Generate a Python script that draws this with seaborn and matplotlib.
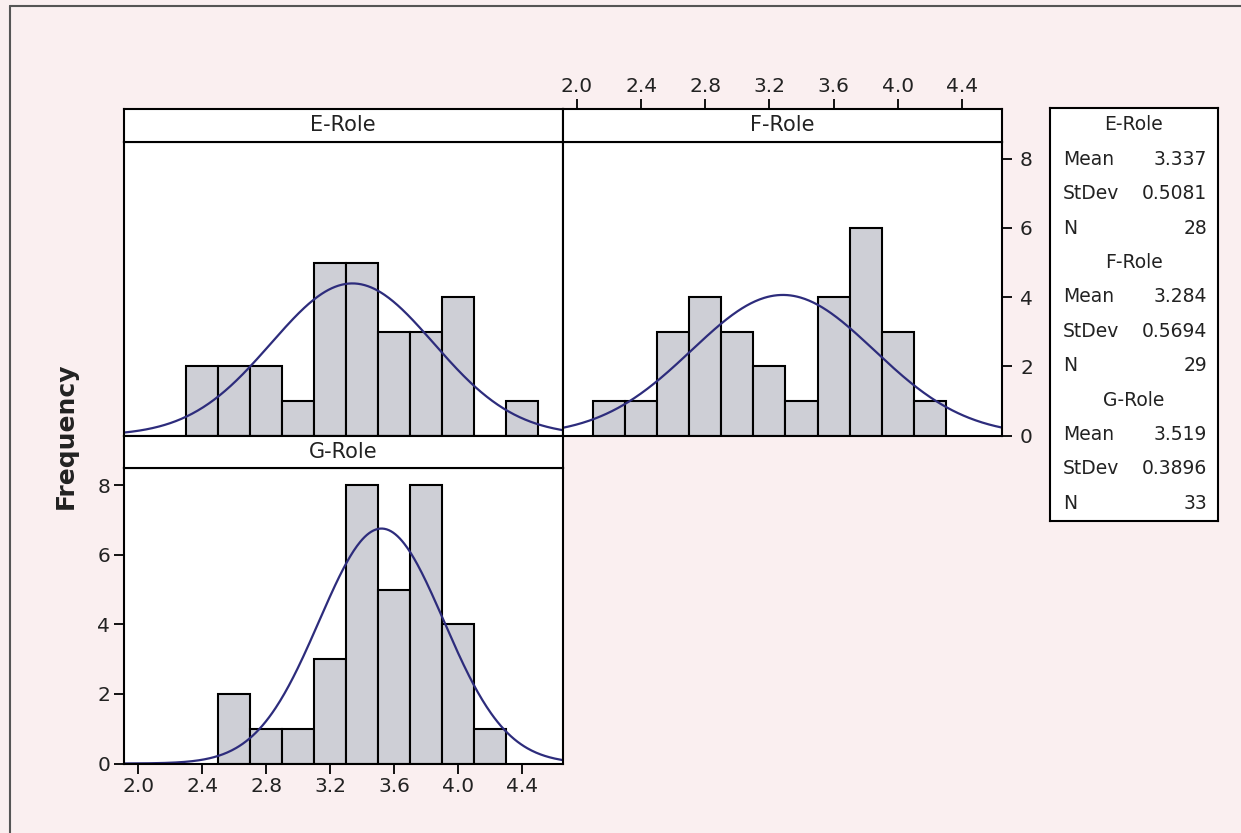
import numpy as np
import pandas as pd
import matplotlib
matplotlib.use("Agg")
import matplotlib.pyplot as plt
from matplotlib.lines import Line2D
import seaborn as sns

# ---------------- data ----------------
roles = ["E-Role", "F-Role", "G-Role"]
bin_width = 0.2
e_first_edge = 2.3
e_counts = [2, 2, 2, 1, 5, 5, 3, 3, 4, 0, 1]
f_first_edge = 2.1
f_counts = [1, 1, 3, 4, 3, 2, 1, 4, 6, 3, 1]
g_first_edge = 2.5
g_counts = [2, 1, 1, 3, 8, 5, 8, 4, 1]
means = [3.337, 3.284, 3.519]
stdevs = [0.5081, 0.5694, 0.3896]
ns = [28, 29, 33]
mean_labels = ["3.337", "3.284", "3.519"]
sd_labels = ["0.5081", "0.5694", "0.3896"]
x_ticks = [2.0, 2.4, 2.8, 3.2, 3.6, 4.0, 4.4]
x_tick_labels = ["2.0", "2.4", "2.8", "3.2", "3.6", "4.0", "4.4"]
y_ticks = [0, 2, 4, 6, 8]

# ---------------- style ----------------
sns.set_style("white")
plt.rcParams["font.family"] = ["DejaVu Sans"]

BG = "#faeff0"
BAR = "#cecfd6"
CURVE = "#2d2c7c"
TXT = "#222222"
XLIM = (1.91, 4.65)
YLIM = (0, 8.5)
W, H = 1241, 833

fig = plt.figure(figsize=(W / 100, H / 100), dpi=100, facecolor=BG)


def rect(l, t, r, b):
    return [l / W, 1 - b / H, (r - l) / W, (b - t) / H]


def style_spines(ax):
    for s in ax.spines.values():
        s.set_visible(True)
        s.set_color("black")
        s.set_linewidth(1.5)


def draw_panel(ax, first_edge, counts, mean, sd, n):
    counts = [float(c) for c in counts]
    nb = len(counts)
    centers = [first_edge + bin_width * (i + 0.5) for i in range(nb)]
    df = pd.DataFrame({"x": centers, "w": counts})
    sns.histplot(data=df, x="x", weights="w", binwidth=bin_width,
                 binrange=(first_edge, first_edge + bin_width * nb), ax=ax,
                 stat="count", color=BAR, edgecolor="black", linewidth=1.5,
                 alpha=1.0)
    xs = np.linspace(XLIM[0], XLIM[1], 400)
    ys = n * bin_width * np.exp(-0.5 * ((xs - mean) / sd) ** 2) / (sd * np.sqrt(2 * np.pi))
    sns.lineplot(x=xs, y=ys, ax=ax, color=CURVE, linewidth=1.6)
    ax.set_xlim(*XLIM)
    ax.set_ylim(*YLIM)
    ax.set_xlabel("")
    ax.set_ylabel("")
    ax.set_facecolor("white")
    style_spines(ax)


def draw_strip(r, label):
    sax = fig.add_axes(rect(*r))
    sax.set_facecolor("white")
    sax.set_xlim(*XLIM)
    sax.set_ylim(0, 1)
    sax.set_xticks([])
    sax.set_yticks([])
    style_spines(sax)
    sax.text(0.5, 0.5, label, transform=sax.transAxes, ha="center", va="center",
             fontsize=15, color=TXT)
    return sax


L, M, R = 124, 562.5, 1002
ST, PT, PB = 109, 141.5, 435.5
GT, GB = 468, 763.5

tick_kw = dict(length=7, width=1.3, labelsize=14.5, colors="black", labelcolor=TXT)

# E-Role
axE = fig.add_axes(rect(L, PT, M, PB))
draw_panel(axE, e_first_edge, e_counts, means[0], stdevs[0], ns[0])
axE.set_xticks([])
axE.set_yticks([])
draw_strip((L, ST, M, PT), roles[0])

# F-Role
axF = fig.add_axes(rect(M, PT, R, PB))
draw_panel(axF, f_first_edge, f_counts, means[1], stdevs[1], ns[1])
axF.set_xticks([])
axF.yaxis.tick_right()
axF.set_yticks(y_ticks)
axF.set_yticklabels([str(v) for v in y_ticks])
axF.tick_params(axis="y", right=True, left=False, pad=6, **tick_kw)
sF = draw_strip((M, ST, R, PT), roles[1])
sF.xaxis.tick_top()
sF.set_xticks(x_ticks)
sF.set_xticklabels(x_tick_labels)
sF.tick_params(axis="x", top=True, bottom=False, pad=2, **tick_kw)

# G-Role
axG = fig.add_axes(rect(L, GT, M, GB))
draw_panel(axG, g_first_edge, g_counts, means[2], stdevs[2], ns[2])
axG.set_xticks(x_ticks)
axG.set_xticklabels(x_tick_labels)
axG.set_yticks(y_ticks)
axG.set_yticklabels([str(v) for v in y_ticks])
axG.tick_params(axis="both", left=True, bottom=True, pad=3, **tick_kw)
draw_strip((L, PB, M, GT), roles[2])

# y label
fig.text(66 / W, 1 - 436 / H, "Frequency", rotation=90, ha="center", va="center",
         fontsize=18, fontweight="bold", color=TXT)

# legend box
lb = (1050, 108, 1218, 521)
lax = fig.add_axes(rect(*lb))
lax.set_facecolor("white")
lax.set_xticks([])
lax.set_yticks([])
style_spines(lax)
lax.set_xlim(lb[0], lb[2])
lax.set_ylim(lb[3], lb[1])
row0, dy = 125, 34.4
row = 0
for role, mlab, slab, n in zip(roles, mean_labels, sd_labels, ns):
    y = row0 + dy * row
    lax.text((lb[0] + lb[2]) / 2, y, role, ha="center", va="center", fontsize=13.5, color=TXT)
    for name, val in (("Mean", mlab), ("StDev", slab), ("N", str(n))):
        row += 1
        y = row0 + dy * row
        lax.text(lb[0] + 13, y, name, ha="left", va="center", fontsize=13.5, color=TXT)
        lax.text(lb[2] - 11, y, val, ha="right", va="center", fontsize=13.5, color=TXT)
    row += 1

# outer frame lines
fig.add_artist(Line2D([10 / W, 1], [1 - 6 / H, 1 - 6 / H], color="#555555", lw=1.5))
fig.add_artist(Line2D([10 / W, 10 / W], [0, 1 - 6 / H], color="#555555", lw=1.5))

fig.savefig("out.png", dpi=100, facecolor=BG)
